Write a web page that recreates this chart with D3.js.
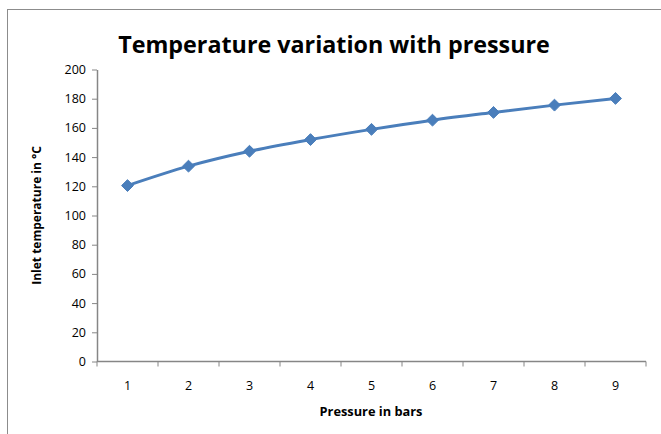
<!DOCTYPE html>
<html>
<head>
<meta charset="utf-8">
<script src="https://cdn.jsdelivr.net/npm/d3@7"></script>
<style>
  html, body { margin: 0; padding: 0; background: #fff; }
  svg { display: block; }
  text { font-family: "Open Sans", "Noto Sans", sans-serif; fill: #000; }
</style>
</head>
<body>
<svg id="chart" width="661" height="434"></svg>
<script>
// Inlet temperature (°C) against pressure (bar)
const pressures = [1, 2, 3, 4, 5, 6, 7, 8, 9];
const temperatures = [120.5, 133.8, 144, 152, 159, 165.3, 170.6, 175.6, 180.2];
const yTicks = [0, 20, 40, 60, 80, 100, 120, 140, 160, 180, 200];

const svg = d3.select("#chart");
const plot = { left: 97, right: 646, top: 69.5, bottom: 361.5 };

// outer chart frame
svg.append("rect")
  .attr("x", 7.5).attr("y", 9.5)
  .attr("width", 700).attr("height", 500)
  .attr("fill", "#fff")
  .attr("stroke", "#8c8c8c").attr("stroke-width", 1);

const x = d3.scaleBand()
  .domain(pressures)
  .range([plot.left, plot.right])
  .paddingInner(0).paddingOuter(0);

const y = d3.scaleLinear()
  .domain([0, 200])
  .range([plot.bottom, plot.top]);

const axisColor = "#868686";

// y axis
const yAxis = svg.append("g")
  .attr("transform", `translate(${plot.left},0)`)
  .call(d3.axisLeft(y).tickValues(yTicks).tickSize(5).tickPadding(6).tickSizeOuter(0));
yAxis.select(".domain").attr("stroke", axisColor).attr("stroke-width", 1.5);
yAxis.selectAll(".tick line").attr("stroke", axisColor).attr("stroke-width", 1);
yAxis.selectAll(".tick text")
  .style("font-size", "12.5px").style("font-family", "'Open Sans', sans-serif")
  .attr("fill", "#000");

// x axis: tick marks sit on the category boundaries, labels in the middle
const xAxisG = svg.append("g").attr("transform", `translate(0,${plot.bottom})`);
xAxisG.append("line")
  .attr("x1", plot.left).attr("x2", plot.right)
  .attr("stroke", axisColor).attr("stroke-width", 1.5);
const boundaries = pressures.map(p => x(p)).concat([x(pressures[pressures.length - 1]) + x.bandwidth()]);
xAxisG.selectAll("line.tk")
  .data(boundaries)
  .join("line")
  .attr("class", "tk")
  .attr("x1", d => d).attr("x2", d => d)
  .attr("y1", 0).attr("y2", 5)
  .attr("stroke", axisColor).attr("stroke-width", 1);
xAxisG.selectAll("text")
  .data(pressures)
  .join("text")
  .attr("x", d => x(d) + x.bandwidth() / 2)
  .attr("y", 28)
  .attr("text-anchor", "middle")
  .style("font-size", "12.5px")
  .text(d => d);

// series line
const px = d => x(d) + x.bandwidth() / 2;
const line = d3.line()
  .x((d, i) => px(pressures[i]))
  .y(d => y(d))
  .curve(d3.curveMonotoneX);

svg.append("path")
  .datum(temperatures)
  .attr("d", line)
  .attr("fill", "none")
  .attr("stroke", "#4a7ebb")
  .attr("stroke-width", 3)
  .attr("stroke-linejoin", "round");

// diamond markers
const diamond = d3.symbol().type(d3.symbolDiamond2).size(90);
svg.selectAll("path.marker")
  .data(temperatures)
  .join("path")
  .attr("class", "marker")
  .attr("transform", (d, i) => `translate(${px(pressures[i])},${y(d)})`)
  .attr("d", diamond)
  .attr("fill", "#4a7ebb")
  .attr("stroke", "#4a7ebb")
  .attr("stroke-width", 1);

// titles
svg.append("text")
  .attr("x", 334).attr("y", 53)
  .attr("text-anchor", "middle")
  .style("font-size", "23.3px").style("font-weight", "bold")
  .text("Temperature variation with pressure");

svg.append("text")
  .attr("x", 371).attr("y", 416)
  .attr("text-anchor", "middle")
  .style("font-size", "12.8px").style("font-weight", "bold")
  .text("Pressure in bars");

svg.append("text")
  .attr("transform", `translate(41,${(plot.top + plot.bottom) / 2}) rotate(-90)`)
  .attr("text-anchor", "middle")
  .style("font-size", "12px").style("font-weight", "bold")
  .text("Inlet temperature in °C");
</script>
</body>
</html>
